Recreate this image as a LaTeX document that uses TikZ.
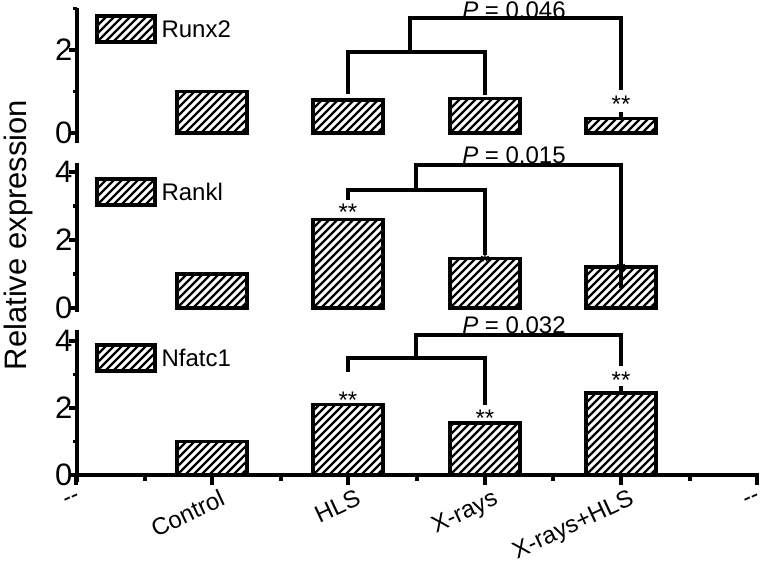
\documentclass[tikz,border=0pt]{standalone}
\usepackage{fontspec}
\setmainfont{Liberation Sans}
\begin{document}
\begin{tikzpicture}[x=1pt,y=-1pt,line cap=butt]
    \tikzstyle{axis}=[line width=3.5pt]
    \tikzstyle{brack}=[line width=3.5pt]
    \tikzstyle{hatch}=[line width=2.2pt]
    \tikzstyle{lab}=[font=\fontsize{31}{31}\selectfont]
    \tikzstyle{cat}=[font=\fontsize{24}{24}\selectfont]
    \newcommand{\hatchbar}[4]{% x1,y1,x2,y2
      \begin{scope}
        \clip (#1,#2) rectangle (#3,#4);
        \foreach \k in {-200,-192,...,200} \draw[hatch] (#1+\k,#2) -- (#1+\k+200,#2-200);
      \end{scope}
      \draw[line width=3.5pt] (#1,#2) rectangle (#3,#4);}
    \useasboundingbox (0,0) rectangle (764,562);
    % y label
    \node[lab,rotate=90] (ylab) at (18,235) {Relative expression};
    % panel 1: Runx2, zero at 133, 41.5 per unit
    \draw[axis] (77,8) -- (77,143);
    \foreach \v/\t in {0/0,2/2} \draw[axis] (69,133-\v*41.5) -- (77,133-\v*41.5) node[lab,anchor=east,inner sep=3pt] {\t};
    \foreach \v in {1,3} \draw[axis] (73,133-\v*41.5) -- (77,133-\v*41.5);
    \foreach \x/\h in {212/1.0,348/0.8,485/0.83,621/0.35}
      \hatchbar{\x-35}{133}{\x+35}{133-\h*41.5};
    \draw[axis] (621,133-0.35*41.5) -- (621,133-0.5*41.5);
    \node[cat] (s1) at (621,104) {**};
    \hatchbar{97}{42}{155}{16}
    \node[cat,anchor=west] (runx) at (158,29) {Runx2};
    \draw[brack] (348,94) -- (348,52) -- (485,52) -- (485,95);
    \draw[brack] (410,52) -- (410,18) -- (621,18) -- (621,90);
    \node[cat] (p1) at (514,10) {\textit{P} = 0.046};
    % panel 2: Rankl, zero at 308, 34 per unit
    \draw[axis] (77,163) -- (77,312);
    \foreach \v in {0,2,4} \draw[axis] (69,308-\v*34) -- (77,308-\v*34) node[lab,anchor=east,inner sep=3pt] {\v};
    \foreach \v in {1,3} \draw[axis] (73,308-\v*34) -- (77,308-\v*34);
    \foreach \x/\h in {212/1.0,348/2.6,485/1.45,621/1.2}
      \hatchbar{\x-35}{308}{\x+35}{308-\h*34};
    \node[cat] (s2a) at (348,212) {**};
    \node[cat] (s2b) at (485,262) {*};
    \node[cat] (s2c) at (621,270) {*};
    \hatchbar{97}{205}{155}{179}
    \node[cat,anchor=west] (rankl) at (158,192) {Rankl};
    \draw[brack] (348,200) -- (348,190) -- (485,190) -- (485,255);
    \draw[brack] (416,190) -- (416,165) -- (621,165) -- (621,288);
    \node[cat] (p2) at (514,155) {\textit{P} = 0.015};
    % panel 3: Nfatc1, zero at 475, 33.5 per unit
    \draw[axis] (77,330) -- (77,482);
    \foreach \v in {0,2,4} \draw[axis] (69,475-\v*33.5) -- (77,475-\v*33.5) node[lab,anchor=east,inner sep=3pt] {\v};
    \foreach \v in {1,3} \draw[axis] (73,475-\v*33.5) -- (77,475-\v*33.5);
    \foreach \x/\h in {212/1.0,348/2.1,485/1.55,621/2.45}
      \hatchbar{\x-35}{475}{\x+35}{475-\h*33.5};
    \draw[axis] (621,475-2.45*33.5) -- (621,475-2.65*33.5);
    \node[cat] (s3a) at (348,400) {**};
    \node[cat] (s3b) at (485,418) {**};
    \node[cat] (s3c) at (621,380) {**};
    \hatchbar{97}{371}{155}{345}
    \node[cat,anchor=west] (nfat) at (158,358) {Nfatc1};
    \draw[brack] (348,372) -- (348,358) -- (485,358) -- (485,405);
    \draw[brack] (416,358) -- (416,335) -- (621,335) -- (621,366);
    \node[cat] (p3) at (514,325) {\textit{P} = 0.032};
    % x axis
    \draw[axis] (75,475) -- (759,475);
    \foreach \x in {76,212,348,485,621,757} \draw[axis] (\x,475) -- (\x,485);
    \foreach \x in {145,281,417,553,690} \draw[axis] (\x,475) -- (\x,481);
    \foreach \x/\t in {212/Control,348/HLS,485/X-rays,621/X-rays+HLS}
      \node[cat,anchor=north east,rotate=25,inner sep=2pt] at (\x+8,486) {\t};
    \node[cat,rotate=25] (l0) at (72,500) {{-}{-}};
    \node[cat,rotate=25] (l5) at (752,500) {{-}{-}};
\end{tikzpicture}
\end{document}
